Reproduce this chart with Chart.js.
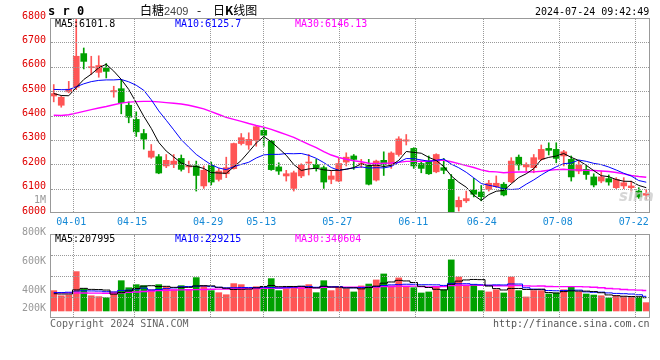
<!DOCTYPE html>
<html><head><meta charset="utf-8">
<script src="https://cdn.jsdelivr.net/npm/chart.js@4.4.1/dist/chart.umd.min.js"></script>
<style>
html,body{margin:0;padding:0;background:#fff;}
#wrap{position:relative;width:660px;height:360px;overflow:hidden;background:#fff;}
#gridlayer{position:absolute;left:0;top:0;width:660px;height:360px;pointer-events:none;z-index:5;}
#gridlayer div{position:absolute;box-sizing:content-box;}
canvas{position:absolute;left:0;top:0;}
.t{position:absolute;white-space:pre;font-family:'DejaVu Sans Mono',monospace;font-size:10px;line-height:12px;color:#000;z-index:6;}
.cjk{position:absolute;white-space:pre;font-family:'Noto Sans CJK SC',sans-serif;font-size:12px;line-height:14px;color:#000;z-index:6;}
</style></head><body>
<div id="wrap">
<canvas id="pc" width="660" height="360"></canvas>
<canvas id="vc" width="660" height="360"></canvas>
<div id="gridlayer"></div>
<div class="t" style="left:48px;top:4px;font-size:12px;font-weight:bold;line-height:14px;">s r 0</div>
<div class="cjk" style="left:140px;top:3px;">白糖</div>
<div class="cjk" style="left:164px;top:4px;font-family:'Liberation Sans',sans-serif;font-size:11px;color:#444;">2409</div>
<div class="cjk" style="left:197px;top:3px;">-</div>
<div class="cjk" style="left:213px;top:3px;">日<b>K</b>线图</div>
<div class="t" style="left:535px;top:6px;">2024-07-24 09:42:49</div>
<div class="t" style="left:55px;top:18px;">MA5:6101.8</div>
<div class="t" style="left:175px;top:18px;color:#0000ff;">MA10:6125.7</div>
<div class="t" style="left:295px;top:18px;color:#ff00ff;">MA30:6146.13</div>
<div class="t" style="left:55px;top:233px;">MA5:207995</div>
<div class="t" style="left:175px;top:233px;color:#0000ff;">MA10:229215</div>
<div class="t" style="left:295px;top:233px;color:#ff00ff;">MA30:340604</div>
<div class="t" style="left:50px;top:318px;color:#666;">Copyright 2024 SINA.COM</div>
<div class="t" style="left:493px;top:318px;color:#555;">http://finance.sina.com.cn</div>
<div class="t" style="left:619px;top:188px;font-family:'DejaVu Sans',sans-serif;font-size:15px;line-height:17px;font-style:italic;font-weight:bold;color:rgba(200,200,200,0.75);">sina</div>
</div>
<script>
// ---- data ----
const dates = ['03-27','03-28','03-29','04-01','04-02','04-03','04-08','04-09','04-10','04-11',
'04-12','04-15','04-16','04-17','04-18','04-19','04-22','04-23','04-24','04-25',
'04-26','04-29','04-30','05-06','05-07','05-08','05-09','05-10','05-13','05-14',
'05-15','05-16','05-17','05-20','05-21','05-22','05-23','05-24','05-27','05-28',
'05-29','05-30','05-31','06-03','06-04','06-05','06-06','06-07','06-11','06-12',
'06-13','06-14','06-17','06-18','06-19','06-20','06-21','06-24','06-25','06-26',
'06-27','06-28','07-01','07-02','07-03','07-04','07-05','07-08','07-09','07-10',
'07-11','07-12','07-15','07-16','07-17','07-18','07-19','07-22','07-23','07-24'];
const tickDates = ['04-01','04-15','04-29','05-13','05-27','06-11','06-24','07-08','07-22'];
const priceTicks = [6000,6045,6100,6200,6300,6400,6500,6600,6700,6800];
const priceTickLabels = ['6000','1M','6100','6200','6300','6400','6500','6600','6700','6800'];
const priceGridValues = [6100,6200,6300,6400,6500,6600,6700];
const volTicksK = [800,600,400,200];
const volTickLabels = ['800K','600K','400K','200K'];
const volGridLevels = [1,2,3];

const open = [6480,6442,6497,6516,6654,6596,6577,6595,6497,6510,
6442,6384,6326,6229,6231,6193,6199,6224,6189,6193,
6111,6195,6138,6161,6182,6285,6279,6298,6339,6295,
6189,6152,6101,6152,6205,6199,6186,6138,6131,6209,
6234,6199,6193,6135,6216,6199,6240,6295,6265,6203,
6213,6169,6186,6138,6025,6050,6094,6086,6097,6108,
6118,6128,6229,6189,6186,6220,6265,6261,6234,6220,
6172,6179,6148,6131,6141,6104,6111,6104,6090,6073];
const high = [6527,6480,6540,6800,6677,6643,6645,6613,6520,6547,
6456,6415,6343,6281,6240,6240,6240,6238,6213,6213,
6193,6209,6183,6229,6287,6326,6329,6356,6349,6298,
6206,6175,6172,6202,6240,6220,6193,6172,6224,6247,
6240,6220,6220,6217,6251,6251,6313,6322,6268,6213,
6234,6243,6224,6158,6066,6090,6142,6113,6134,6152,
6125,6227,6238,6206,6240,6279,6288,6288,6257,6234,
6213,6193,6161,6172,6156,6145,6145,6131,6104,6097];
const low = [6456,6434,6493,6506,6591,6568,6557,6554,6475,6407,
6370,6314,6262,6224,6161,6186,6186,6172,6165,6090,
6101,6115,6131,6145,6180,6279,6261,6274,6274,6175,
6158,6131,6090,6145,6156,6172,6101,6120,6128,6193,
6179,6186,6115,6131,6154,6183,6233,6279,6183,6165,
6158,6165,6161,6000,6008,6043,6066,6050,6090,6104,
6070,6124,6176,6172,6165,6216,6238,6206,6193,6131,
6161,6138,6107,6124,6114,6100,6100,6090,6060,6056];
const close = [6490,6475,6508,6643,6622,6600,6605,6581,6502,6453,
6393,6333,6303,6254,6164,6216,6213,6179,6193,6154,
6175,6127,6172,6186,6285,6309,6302,6354,6319,6178,
6172,6161,6165,6197,6209,6186,6127,6152,6203,6229,
6220,6203,6118,6213,6199,6246,6304,6300,6193,6183,
6161,6240,6175,6003,6052,6059,6077,6067,6122,6122,
6074,6213,6197,6199,6227,6261,6257,6224,6251,6148,
6197,6158,6115,6148,6127,6138,6124,6111,6066,6080];

const ma5 = [6490,6482,6481,6515,6547.6,6569.6,6595.6,6610.2,6582,6548.2,
6506.8,6452.4,6396.8,6347.2,6289.4,6254,6230,6205.2,6193,6191,
6182.8,6165.6,6164.2,6162.8,6189,6215.8,6250.8,6287.2,6313.8,6292.4,
6265,6236.8,6199,6174.6,6180.8,6183.6,6176.8,6174.2,6175.4,6179.4,
6186.2,6201.4,6194.6,6196.6,6190.6,6195.8,6216,6252.4,6248.4,6245.2,
6228.2,6215.4,6190.4,6152.4,6126.2,6105.8,6073.2,6051.6,6075.4,6089.4,
6092.4,6119.6,6145.6,6161,6182,6219.4,6228.2,6233.6,6244,6228.2,
6215.4,6195.6,6173.8,6153.2,6149,6137.2,6130.4,6129.6,6113.2,6103.8];
const ma10 = [6507,6506,6506,6518,6530,6539,6544,6546,6546,6547.9,
6538.2,6524,6503.5,6464.6,6418.8,6380.4,6341.2,6301,6270.1,6240.2,
6218.4,6197.8,6184.7,6177.9,6190,6199.3,6208.2,6225.7,6238.3,6240.7,
6240.4,6243.8,6243.1,6244.2,6236.6,6224.3,6206.8,6186.6,6175,6180.1,
6184.9,6189.1,6184.4,6186,6185,6191,6208.7,6223.5,6222.5,6217.9,
6212,6215.7,6221.4,6200.4,6185.7,6167,6144.3,6121,6113.9,6107.8,
6099.1,6096.4,6098.6,6118.2,6135.7,6155.9,6173.9,6189.6,6202.5,6205.1,
6217.4,6211.9,6203.7,6198.6,6188.6,6176.3,6163,6151.7,6133.2,6126.4];
const ma30 = [6401,6400,6403,6410,6417,6424,6431,6437,6444,6451,
6455,6457,6458,6458,6456,6453,6450,6447,6442,6435,
6427,6416,6404,6392,6384,6376,6367,6359,6352,6342.9,
6332.3,6321.9,6310.4,6295.6,6281.8,6268,6252.1,6237.8,6227.8,6220.3,
6214.6,6210.2,6204.1,6202.7,6203.9,6204.9,6207.9,6211.9,6211.9,6212.9,
6212.4,6216.2,6216.3,6210.2,6202.4,6194.1,6186.6,6177,6170.5,6168.6,
6165.3,6167.1,6168.1,6168.2,6168.8,6171.3,6175.6,6178,6179.6,6176.9,
6176.2,6174.7,6174.6,6172.4,6170,6166.4,6160.4,6154.1,6149.9,6146.4];

const volumeK = [399,364,369,529,412,364,358,351,390,467,
419,440,433,405,440,424,405,433,405,488,
433,399,385,371,447,440,405,426,419,481,
399,412,426,426,440,385,467,399,424,412,
390,431,444,472,513,431,486,424,419,383,
390,424,405,609,492,431,440,399,390,405,
383,492,399,356,399,399,376,383,405,424,
390,376,369,364,349,364,358,358,356,317];
const volMA5 = [378,376,376,404,414.6,407.6,406.4,402.8,375,386,
397,413.4,429.8,432.8,427.4,428.4,421.4,421.4,421.4,431,
432.8,431.6,422,415.2,407,408.4,409.6,417.8,427.4,434.2,
426,427.4,427.4,428.8,420.6,417.8,428.8,423.4,423,417.4,
418.4,411.2,420.2,429.8,450,458.2,469.2,465.2,454.6,428.6,
420.4,408,404.2,442.2,464,472.2,475.4,474.2,430.4,413,
403.4,413.8,413.8,407,405.8,409,385.8,382.6,392.4,397.4,
395.6,395.6,392.8,384.6,369.6,364.4,360.8,358.6,357,350.6];
const volMA10 = [386,386,388,396,398,397,396,392,390,400.3,
402.3,409.9,416.3,403.9,406.7,412.7,417.4,425.6,427.1,429.2,
430.6,426.5,421.7,418.3,419,420.6,420.6,419.9,421.3,420.6,
417.2,418.5,422.6,428.1,427.4,421.9,428.1,425.4,425.9,419,
418.1,420,421.8,426.4,433.7,438.3,440.2,442.7,442.2,439.3,
439.3,438.6,434.7,448.4,446.3,446.3,441.7,439.2,436.3,438.5,
437.8,444.6,444,418.7,409.4,406.2,399.8,398.2,399.7,401.6,
402.3,390.7,387.7,388.5,383.5,380,378.2,375.7,370.8,360.1];
const volMA30 = [385,385,384,384,383,382,382,381,382,384,
387,390,393,396,399,401,403,404,405,406,
407,408,409,410,411,412,413,414,415,416.7,
416.7,418.3,420.2,416.8,417.7,418.4,422,423.6,424.8,422.9,
422,421.7,422,424.3,426.7,426.9,429.6,429.3,429.8,426.3,
424.9,425.7,426.4,434.3,435.8,435.5,436.7,435.8,434.8,432.3,
431.7,434.4,433.5,431.2,429.8,430.3,427.2,426.7,426.1,426.5,
426.5,424.6,422.1,418.5,413.1,410.8,406.6,404.4,402.3,400.1];

// ---- drawing ----
const RED = '#ff5555', GREEN = '#00a000';
const MONO = "'DejaVu Sans Mono'";
const N = dates.length;
const idx = dates.map((d, i) => i);
const gridStep = 7.6 / 7.5;
const tickIdx = tickDates.map(d => dates.indexOf(d));
const xGridValues = tickIdx.map(i => i * gridStep - 0.5);
const xTicks = s => { s.ticks = xGridValues.map(v => ({ value: v })); };
const candleColor = ctx => close[ctx.dataIndex] >= open[ctx.dataIndex] ? RED : GREEN;
const pts = arr => idx.map(i => ({ x: i, y: arr[i] }));
const line = (label, arr, color, w) => ({ type: 'line', label, data: pts(arr), borderColor: color, borderWidth: w,
  pointRadius: 0, tension: 0, fill: false, order: 0 });

const framePlugin = { id: 'frame', afterDraw(c) {
  const a = c.chartArea, g = c.ctx;
  g.save(); g.strokeStyle = '#999'; g.lineWidth = 1;
  g.strokeRect(Math.round(a.left) + 0.5, Math.round(a.top) + 0.5, Math.round(a.right - a.left) - 1, Math.round(a.bottom - a.top) - 1);
  g.restore();
}};
const volLabelPlugin = { id: 'vlab', afterDraw(c) {
  const s = c.scales.y, a = c.chartArea, g = c.ctx;
  g.save(); g.font = '10px ' + MONO; g.fillStyle = '#999'; g.textAlign = 'right'; g.textBaseline = 'middle';
  volTicksK.forEach((v, k) => { g.fillText(volTickLabels[k], a.left - 4, Math.min(s.getPixelForValue(v), a.bottom - 10)); });
  g.restore();
}};

const common = { responsive: false, animation: false, events: [], devicePixelRatio: 1,
  plugins: { legend: { display: false }, tooltip: { enabled: false } } };

const priceChart = new Chart(document.getElementById('pc'), {
  type: 'bar',
  data: { datasets: [
    line('MA5', ma5, '#000000', 1),
    line('MA10', ma10, '#0000ff', 1),
    line('MA30', ma30, '#ff00ff', 1.4),
    { label: 'body', data: idx.map(i => ({ x: i, y: [open[i], close[i]] })), backgroundColor: candleColor,
      barThickness: 6, minBarLength: 1, grouped: false, order: 1 },
    { label: 'wick', data: idx.map(i => ({ x: i, y: [low[i], high[i]] })), backgroundColor: candleColor,
      barThickness: 1, grouped: false, order: 2 }
  ]},
  options: Object.assign({}, common, {
    layout: { padding: { top: 18, right: 10, bottom: 128, left: 0 } },
    scales: {
      x: { type: 'linear', min: -0.5, max: N - 0.5, offset: false, afterBuildTicks: xTicks, afterFit: s => { s.height = 19; },
        grid: { display: false, drawTicks: false }, border: { display: false },
        ticks: { autoSkip: false, maxRotation: 0, minRotation: 0, padding: 3, labelOffset: -1.5, color: '#1589d6',
          font: { family: MONO, size: 10 }, callback: (v, k) => tickDates[k] } },
      y: { min: 6000, max: 6800, afterBuildTicks: s => { s.ticks = priceTicks.map(v => ({ value: v })); }, afterFit: s => { s.width = 50; },
        grid: { display: false, drawTicks: false }, border: { display: false },
        ticks: { padding: 4, labelOffset: -2, color: ctx => (ctx.tick && ctx.tick.value === 6045) ? '#999' : '#e00000',
          font: { family: MONO, size: 10 }, callback: (v, k) => priceTickLabels[k] } }
    }
  }),
  plugins: [framePlugin]
});

const volChart = new Chart(document.getElementById('vc'), {
  type: 'bar',
  data: { datasets: [
    Object.assign(line('VMA5', volMA5, '#000000', 1), { stepped: 'middle' }),
    Object.assign(line('VMA10', volMA10, '#0000ff', 1), { stepped: 'middle' }),
    Object.assign(line('VMA30', volMA30, '#ff00ff', 1.4), { stepped: 'middle' }),
    { label: 'vol', data: idx.map(i => ({ x: i, y: volumeK[i] })), backgroundColor: candleColor,
      base: 260, barThickness: 6, grouped: false, order: 1 }
  ]},
  options: Object.assign({}, common, {
    layout: { padding: { top: 234, right: 10, bottom: 42, left: 0 } },
    scales: {
      x: { type: 'linear', min: -0.5, max: N - 0.5, offset: false, afterBuildTicks: xTicks, afterFit: s => { s.height = 0; },
        grid: { display: false, drawTicks: false }, border: { display: false }, ticks: { display: false } },
      y: { min: 212, max: 786, afterFit: s => { s.width = 50; }, ticks: { display: false }, grid: { display: false }, border: { display: false } },
      yg: { type: 'linear', position: 'left', min: 0, max: 4, afterFit: s => { s.width = 0; },
        ticks: { display: false }, grid: { display: false, drawTicks: false }, border: { display: false } }
    }
  }),
  plugins: [framePlugin, volLabelPlugin]
});

// dotted grid layer above the chart canvases, placed from each chart's own scales
const layer = document.getElementById('gridlayer');
function addGrid(chart, yId, yValues) {
  const a = chart.chartArea, xs = chart.scales.x, ys = chart.scales[yId];
  const L = Math.round(a.left), R = Math.round(a.right), T = Math.round(a.top), B = Math.round(a.bottom);
  xGridValues.forEach(v => {
    const d = document.createElement('div');
    d.style.cssText = 'left:' + Math.round(xs.getPixelForValue(v)) + 'px;top:' + (T + 1) + 'px;width:0;height:' + (B - T - 2) + 'px;border-left:1px dotted #999;';
    layer.appendChild(d);
  });
  yValues.forEach(v => {
    const d = document.createElement('div');
    d.style.cssText = 'left:' + (L + 1) + 'px;top:' + Math.round(ys.getPixelForValue(v)) + 'px;width:' + (R - L - 2) + 'px;height:0;border-top:1px dotted #999;';
    layer.appendChild(d);
  });
}
addGrid(priceChart, 'y', priceGridValues);
addGrid(volChart, 'yg', volGridLevels);
</script>
</body></html>
